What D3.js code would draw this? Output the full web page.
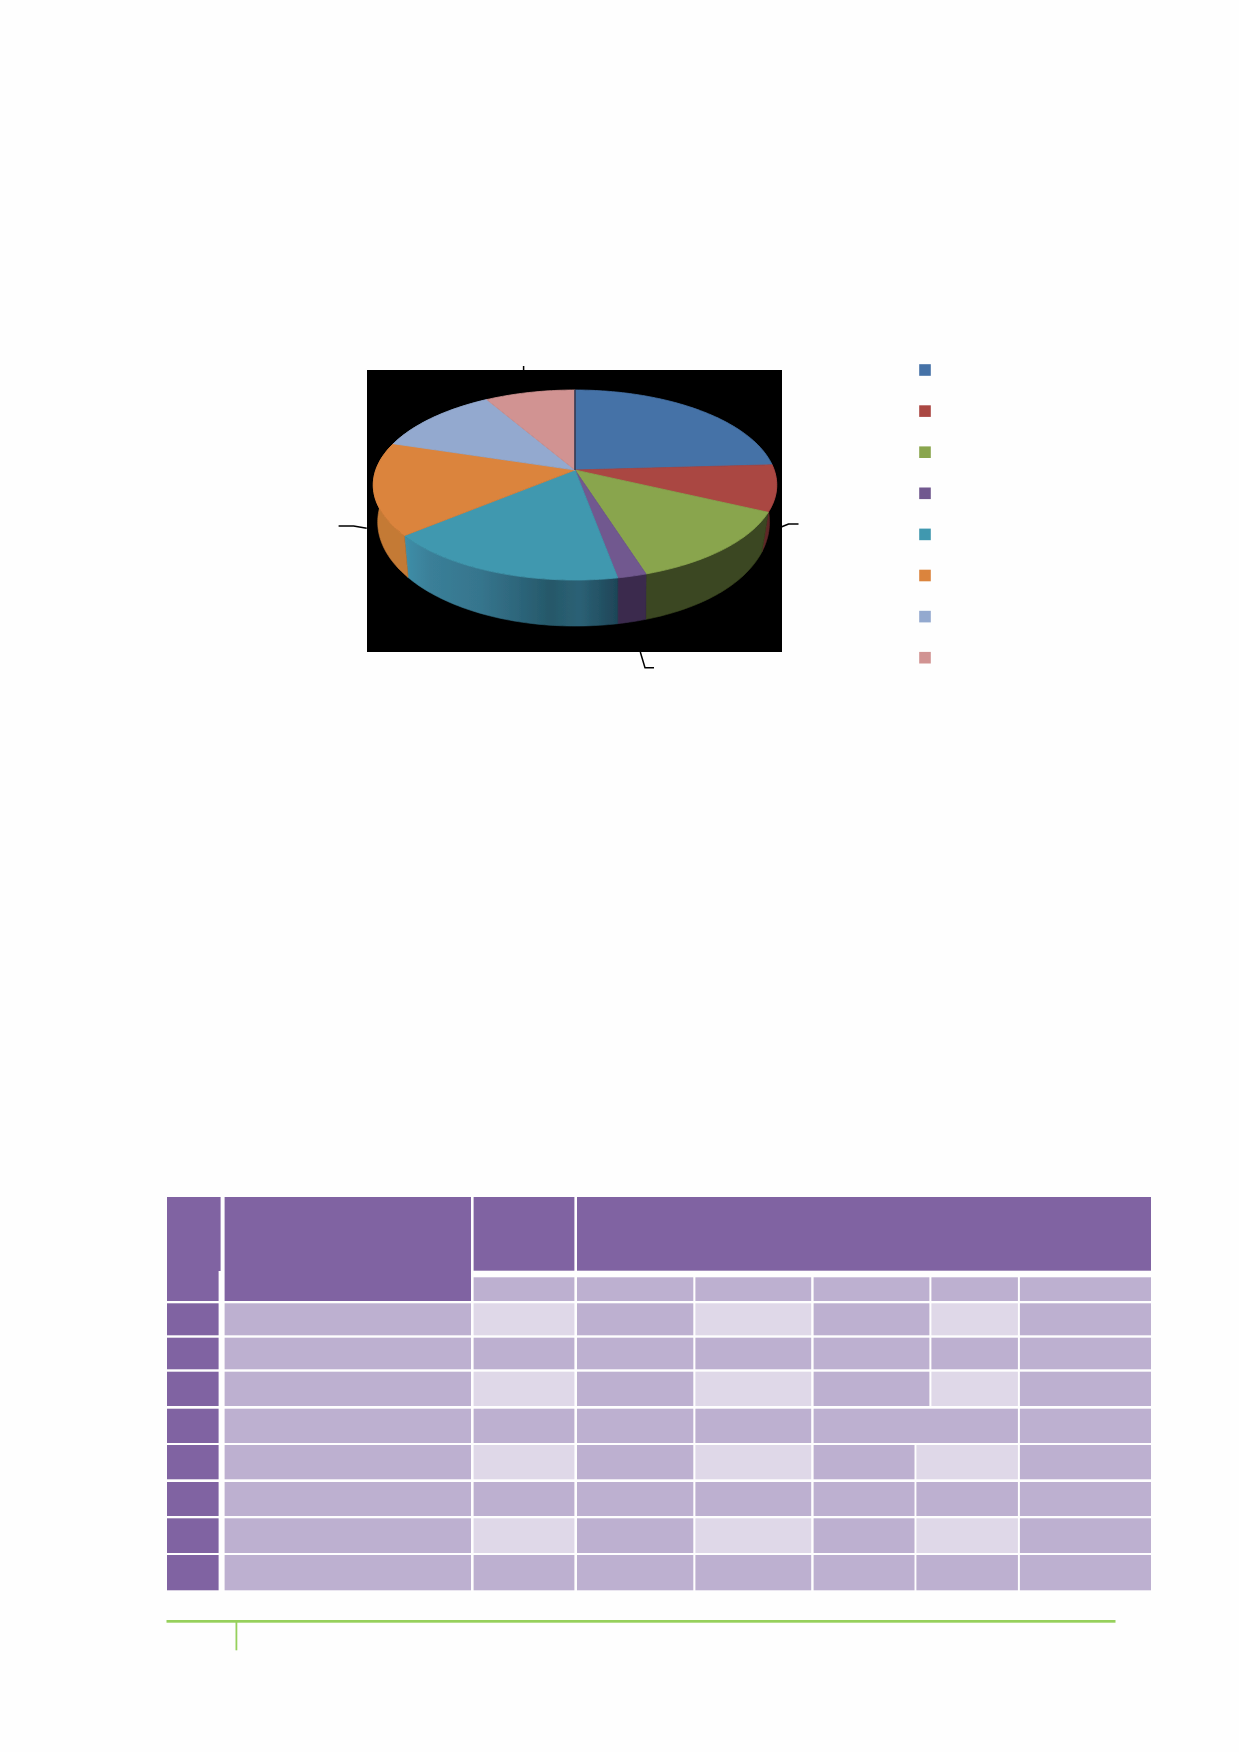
<!DOCTYPE html>
<html>
<head>
<meta charset="utf-8">
<script src="https://cdn.jsdelivr.net/npm/d3@7"></script>
<style>
  html, body { margin: 0; padding: 0; background: #fefefe; }
  svg { display: block; }
</style>
</head>
<body>
<div id="chart"></div>
<script>
// pie data (the labels are blank in the source)
var sliceIds = ["s1", "s2", "s3", "s4", "s5", "s6", "s7", "s8"]
var sliceValues = [24.1, 7.9, 13.1, 2.0, 16.9, 15.8, 11.8, 8.4]
var sliceColors = ["#4572a7", "#aa4643", "#89a54e", "#71588f", "#4198af", "#db843d", "#93a9cf", "#d19392"]
var wallColors = ["#2c4668", "#5e2828", "#3a4620", "#3a2b4e", "#2f6d84", "#c47a35", "#5f6f8a", "#8a5f5e"]

// table shading, one list per body row, from the third column on
var rowShades = [
    ["light", "mid", "light", "mid", "light", "mid"],
    ["mid", "mid", "mid", "mid", "mid", "mid"],
    ["light", "mid", "light", "mid", "light", "mid"],
    ["mid", "mid", "mid", "mid", "mid"],
    ["light", "mid", "light", "mid", "light", "mid"],
    ["mid", "mid", "mid", "mid", "mid", "mid"],
    ["light", "mid", "light", "mid", "light", "mid"],
    ["mid", "mid", "mid", "mid", "mid", "mid"]
]

var width = 1239
var height = 1752

var svg = d3.select("#chart")
    .append("svg")
    .attr("width", width)
    .attr("height", height)

var defs = svg.append("defs")

// the source is a soft scan, so the marks get a very small blur
defs.append("filter")
    .attr("id", "soft")
    .attr("x", "-2%").attr("y", "-2%").attr("width", "104%").attr("height", "104%")
    .append("feGaussianBlur")
    .attr("stdDeviation", 0.6)

// ---- chart box ----
svg.append("rect")
    .attr("x", 367).attr("y", 370)
    .attr("width", 415).attr("height", 282)
    .attr("fill", "#000")

// ---- 3d pie: a tilted disc seen in perspective ----
var cx = 575
var apexY = 470
var R = 199.2
var tilt = 0.465
var persp = 0.158

function topPoint(a) {
    var u = Math.sin(a), v = -Math.cos(a)
    var k = 1 / (1 - persp * v)
    return [cx + R * u * k, apexY + R * tilt * v * k]
}

// the lower rim is the upper one moved down and pulled in, more on the right
function bottomPoint(a) {
    var p = topPoint(a)
    var dx = p[0] - cx
    var squeeze = dx > 0 ? 1 - 0.035 * Math.pow(dx / 200, 2) : 0.978
    return [cx + dx * squeeze, 522 + (p[1] - 485) * 1.095]
}

function arcSamples(a0, a1) {
    var n = Math.max(2, Math.ceil((a1 - a0) / 0.02))
    return d3.range(n + 1).map(i => a0 + (a1 - a0) * i / n)
}

var line = d3.line()
var slices = d3.pie().sort(null).value(d => d.value)(
    sliceIds.map((id, i) => ({ id: id, value: sliceValues[i], color: sliceColors[i], wall: wallColors[i] }))
)

var tealGrad = defs.append("linearGradient")
    .attr("id", "tealWall")
    .attr("gradientUnits", "userSpaceOnUse")
    .attr("x1", 405).attr("x2", 618).attr("y1", 0).attr("y2", 0)
var tealStops = [[0, "#3f8ea8"], [0.12, "#3a7f98"], [0.35, "#36758d"], [0.55, "#2c6479"], [0.68, "#265869"], [0.82, "#2b6175"], [1, "#1e4557"]]
tealStops.forEach(s => tealGrad.append("stop").attr("offset", s[0]).attr("stop-color", s[1]))

var pie = svg.append("g").attr("filter", "url(#soft)")

// walls first, only the slices that reach the front of the disc
var walls = pie.append("g")
slices.filter(d => d.endAngle > Math.PI / 2 && d.startAngle < Math.PI * 1.7)
    .forEach(d => {
        var angles = arcSamples(d.startAngle, d.endAngle)
        var pts = angles.map(topPoint).concat(angles.slice().reverse().map(bottomPoint))
        var fill = d.data.id === "s5" ? "url(#tealWall)" : d.data.wall
        walls.append("path")
            .attr("d", line(pts) + "Z")
            .attr("fill", fill)
            .attr("stroke", fill)
            .attr("stroke-width", 0.6)
    })

// same colour stroke so no black shows through between the faces
pie.append("g")
    .selectAll("path")
    .data(slices)
    .enter()
    .append("path")
    .attr("d", d => line([[cx, apexY]].concat(arcSamples(d.startAngle, d.endAngle).map(topPoint))) + "Z")
    .attr("fill", d => d.data.color)
    .attr("stroke", d => d.data.color)
    .attr("stroke-width", 0.8)
    .attr("stroke-linejoin", "round")

// dark seam at twelve o'clock
pie.append("line")
    .attr("x1", cx).attr("y1", topPoint(0)[1])
    .attr("x2", cx).attr("y2", apexY)
    .attr("stroke", "#1d2c48")
    .attr("stroke-width", 1.4)

// ---- leader lines of the (blank) data labels ----
var leaders = [
    [[523.6, 366], [523.6, 370]],
    [[338.6, 526], [353.6, 526], [366.7, 528.3]],
    [[781.8, 526.7], [788.6, 524], [798.5, 524]],
    [[640.3, 652], [645, 667.7], [654, 667.7]]
]
svg.append("g")
    .selectAll("path")
    .data(leaders)
    .enter()
    .append("path")
    .attr("d", d => line(d))
    .attr("fill", "none")
    .attr("stroke", "#000")
    .attr("stroke-width", 1.5)
    .attr("stroke-linejoin", "round")

// ---- legend ----
var legendY = d3.scalePoint().domain(sliceIds).range([370, 657.7])
svg.append("g")
    .attr("filter", "url(#soft)")
    .selectAll("rect")
    .data(sliceIds)
    .enter()
    .append("rect")
    .attr("x", 919.2)
    .attr("y", d => legendY(d) - 5.8)
    .attr("width", 11.6)
    .attr("height", 11.6)
    .attr("fill", (d, i) => sliceColors[i])

// ---- table ----
var shade = { dark: "#8064a2", mid: "#bdb0d0", light: "#dfd8e8" }
var table = svg.append("g").attr("filter", "url(#soft)")

function cell(x0, y0, x1, y1, fill) {
    table.append("rect")
        .attr("x", x0).attr("y", y0)
        .attr("width", x1 - x0).attr("height", y1 - y0)
        .attr("fill", fill)
}

// header block
cell(167, 1197, 220.6, 1271, shade.dark)
cell(167, 1271, 218.6, 1301, shade.dark)
cell(224.6, 1197, 471, 1301, shade.dark)
cell(473.6, 1197, 574.4, 1270.7, shade.dark)
cell(577, 1197, 1151, 1270.7, shade.dark)

var upperCols = [[473.6, 574.4], [577, 693.3], [695.4, 811.2], [813.6, 929.4], [931.4, 1017.9], [1019.9, 1151]]
var mergedCols = [[473.6, 574.4], [577, 693.3], [695.4, 811.2], [813.6, 1017.9], [1019.9, 1151]]
var lowerCols = [[473.6, 574.4], [577, 693.3], [695.4, 811.2], [813.6, 914.5], [916.4, 1017.9], [1019.9, 1151]]

// sub header row
upperCols.forEach(c => cell(c[0], 1277.3, c[1], 1301, shade.mid))

var rowEdges = [[1303.3, 1335.3], [1337.7, 1369.3], [1371.7, 1406], [1408.7, 1443], [1445, 1479.3], [1482, 1516], [1518.3, 1553], [1555, 1590.3]]
rowShades.forEach((row, r) => {
    var y = rowEdges[r]
    var cols = r < 3 ? upperCols : (r === 3 ? mergedCols : lowerCols)
    cell(167, y[0], 218.6, y[1], shade.dark)
    cell(224.6, y[0], 471, y[1], shade.mid)
    row.forEach((s, i) => cell(cols[i][0], y[0], cols[i][1], y[1], shade[s]))
})

// ---- page footer rule ----
svg.append("rect").attr("x", 166.5).attr("y", 1620).attr("width", 949).attr("height", 2.7).attr("fill", "#96d05c")
svg.append("rect").attr("x", 235.5).attr("y", 1620).attr("width", 1.8).attr("height", 30.3).attr("fill", "#96d05c")
</script>
</body>
</html>
